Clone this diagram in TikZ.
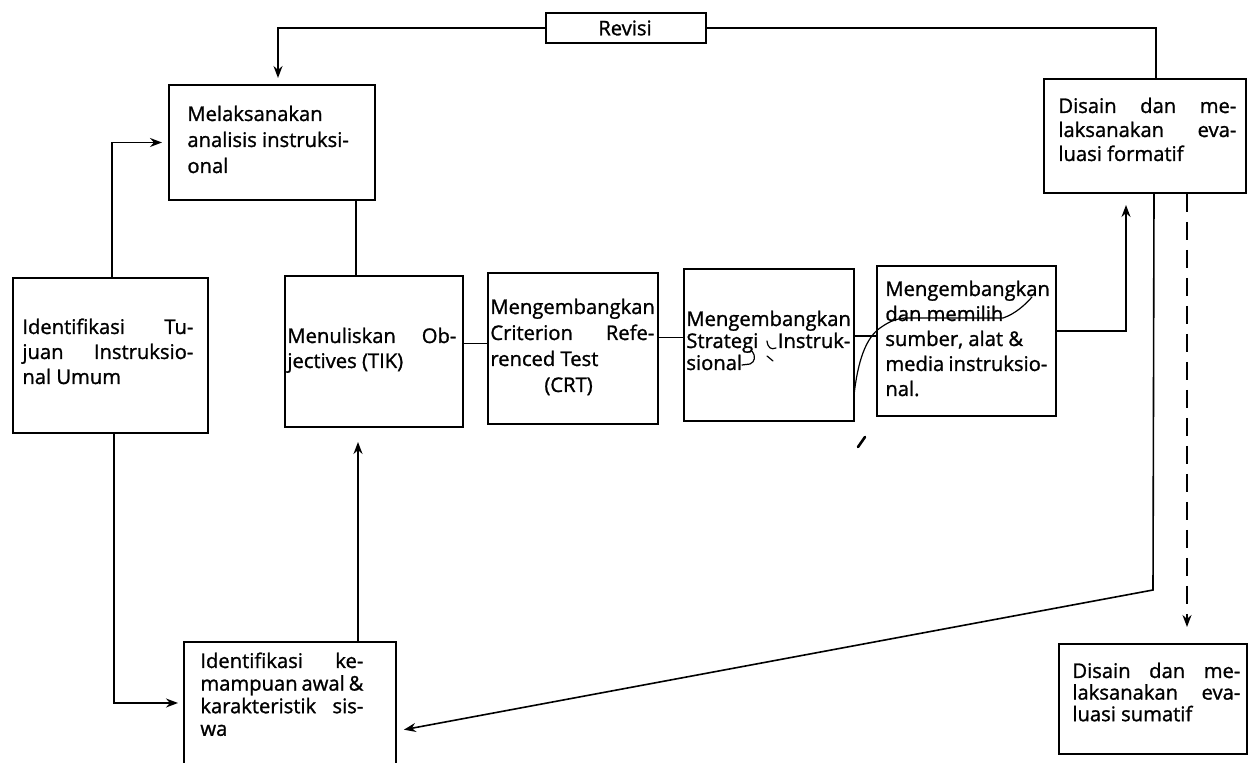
\documentclass[tikz,border=0pt]{standalone}
\usepackage{fontspec}
\setmainfont{Open Sans}[FakeBold=1.2]
\usetikzlibrary{arrows.meta}

% box text: fixed size, per-box line spacing
\newcommand\boxfont[1]{\fontsize{10.1}{#1}\selectfont}

\tikzset{
  stepbox/.style={draw, line width=1pt, inner sep=0pt, anchor=north west},
  boxtext/.style={inner sep=0pt, anchor=base west, align=justify},
  link/.style={line width=0.8pt},
  arr/.style={link, -{Stealth[length=6pt,width=4.5pt]}},
  dashlink/.style={arr, dash pattern=on 9pt off 5pt},
  pen/.style={line width=0.6pt, line cap=round, line join=round},
}

\begin{document}
\begin{tikzpicture}[x=0.5pt,y=-0.5pt]
\useasboundingbox (0,0) rectangle (1248,763);

% ---------------- boxes ----------------
\node[stepbox, minimum width=80pt,   minimum height=15pt]   (R) at (545,12)   {};
\node[stepbox, minimum width=103pt,  minimum height=57.5pt] (A) at (168,84)   {};
\node[stepbox, minimum width=97.5pt, minimum height=77.5pt] (T) at (12,277)   {};
\node[stepbox, minimum width=89pt,   minimum height=75.5pt] (M) at (284,275)  {};
\node[stepbox, minimum width=85pt,   minimum height=75.5pt] (C) at (487,272)  {};
\node[stepbox, minimum width=85pt,   minimum height=76pt]   (S) at (683,268)  {};
\node[stepbox, minimum width=89.5pt, minimum height=75pt]   (D) at (876,265)  {};
\node[stepbox, minimum width=101pt,  minimum height=57pt]   (F) at (1043,78)  {};
\node[stepbox, minimum width=94pt,   minimum height=55pt]   (U) at (1058,643) {};
\node[stepbox, minimum width=106pt,  minimum height=61pt]   (K) at (183,641)  {};

% ---------------- texts ----------------
\node[inner sep=0pt, font=\boxfont{12}] (tR) at (625,28) {Revisi};
\node[boxtext, text width=90pt, font=\boxfont{13}] (tA) at (187,121)
  {Melaksanakan\\analisis instruksi-\\onal};
\node[boxtext, text width=85.5pt, font=\boxfont{12.5}] (tT) at (22,334)
  {Identifikasi\hfill Tu-\\juan\hfill Instruksio-\\nal Umum};
\node[boxtext, text width=84.5pt, font=\boxfont{12.5}] (tM) at (287,343)
  {Menuliskan\hfill Ob-\\jectives (TIK)};
\node[boxtext, text width=82pt, font=\boxfont{13}] (tC) at (490,314)
  {Mengembangkan\\Criterion\hfill Refe-\\renced Test\\\hspace*{27pt}(CRT)};
\node[boxtext, text width=82pt, font=\boxfont{11}] (tS) at (686,326)
  {Mengembangkan\\Strategi\hfill Instruk-\\sional};
\node[boxtext, text width=81pt, font=\boxfont{12.5}] (tD) at (885,296)
  {Mengembangkan\\dan memilih\\sumber, alat \&\\media instruksio-\\nal.};
\node[boxtext, text width=89pt, font=\boxfont{12}] (tF) at (1058,113)
  {Disain\hfill dan\hfill me-\\laksanakan\hfill eva-\\luasi formatif};
\node[boxtext, text width=84pt, font=\boxfont{10.8}] (tU) at (1072,678)
  {Disain\hfill dan\hfill me-\\laksanakan\hfill eva-\\luasi sumatif};
\node[boxtext, text width=81.5pt, font=\boxfont{11.3}] (tK) at (200,668)
  {Identifikasi\hfill ke-\\mampuan awal \&\\karakteristik\hfill sis-\\wa};

% ---------------- connectors ----------------
% revision loop over the top
\coordinate (fN) at ([shift={(11,0)}]F.north);
\coordinate (aN) at ([shift={(6,0)}]A.north);
\draw[link] (fN) |- (R.east);
\draw[arr, shorten >=3pt] (R.west) -| (aN);

% general goals -> analysis, and -> entry behaviour
\coordinate (tN) at ([shift={(1.5,0)}]T.north);
\draw[arr, shorten >=3pt] (tN) |- (A.west);
\coordinate (tS) at ([shift={(3.5,0)}]T.south);
\draw[arr, shorten >=2.5pt] (tS) |- (K.west);

% analysis -> objectives
\coordinate (aS) at ([shift={(84,0)}]A.south);
\draw[link] (aS) -- (aS |- M.north);

% entry behaviour -> objectives
\coordinate (kN) at ([shift={(68,0)}]K.north);
\draw[arr, shorten >=7pt] (kN) -- (kN |- M.south);

% main row
\coordinate (mE) at ([shift={(0,-8)}]M.east);
\draw[link] (mE) -- (mE -| C.west);
\coordinate (cE) at ([shift={(0,-11)}]C.east);
\draw[link] (cE) -- (cE -| S.west);
\coordinate (sE) at ([shift={(0,-9)}]S.east);
\draw[link] (sE) -- (sE -| D.west);

% materials -> formative evaluation
\coordinate (dE) at ([shift={(0,-10)}]D.east);
\coordinate (fS) at ([shift={(-19,0)}]F.south);
\draw[arr, shorten >=5.5pt] (dE) -| (fS);

% formative evaluation -> entry behaviour
\coordinate (fS2) at ([shift={(9,0)}]F.south);
\coordinate (bend) at (1153,590);
\coordinate (kE) at ([shift={(0,28)}]K.east);
\draw[arr, shorten >=3.5pt] (fS2) -- (bend) -- (kE);

% formative -> summative (dashed)
\coordinate (fS3) at ([shift={(42,0)}]F.south);
\draw[dashlink, shorten >=8pt] (fS3) -- (fS3 |- U.north);

% ---------------- pen marks ----------------
\draw[pen] (854,395) .. controls (858,360) and (866,338) .. (880,328)
  .. controls (890,321) and (896,319) .. (905,318) -- (1003,318)
  .. controls (1015,314) and (1025,305) .. (1032,297);
\draw[pen] (767,341) .. controls (768,348) and (771,350) .. (776,348);
\draw[pen] (767,356) -- (773,361);
\draw[pen] (742,365) -- (750,364) .. controls (755,362) and (756,356) .. (752,351);
\draw[pen, line width=1.3pt] (858,447) -- (865,437);
\end{tikzpicture}
\end{document}
